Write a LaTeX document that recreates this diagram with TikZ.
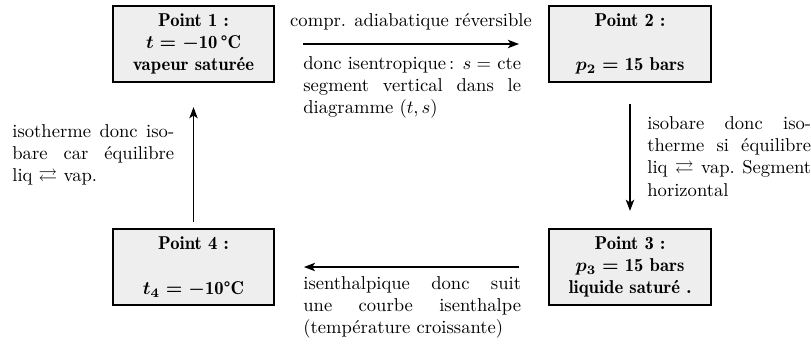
\documentclass[tikz,border=0pt]{standalone}
\usepackage{fontspec}
\usepackage{amssymb}
\usetikzlibrary{arrows.meta}
\newfontfamily\demifont{lmromandemi10-regular.otf}
\newcommand\jline[2]{\makebox[#1][s]{#2}}
\tikzset{
  ptbox/.style={draw, line width=1.1pt, fill=gray!13, minimum width=87pt, minimum height=41pt,
    inner sep=2pt, align=center, font=\demifont\boldmath},
  flow/.style={line width=0.8pt, -{Stealth[length=6pt,width=4.5pt,inset=1.5pt]}},
  para/.style={anchor=north west, inner sep=0pt, align=left},
}
\begin{document}
\begin{tikzpicture}[x=0.5376pt, y=-0.5376pt]
\useasboundingbox (0,0) rectangle (811,349);
\node[ptbox] (b1) at (193.5,44) {Point 1 :\\ $t=-$10\,°C\\ vapeur saturée};
\node[ptbox] (b2) at (630,44) {Point 2 :\\[12pt] $p_2=$ 15 bars};
\node[ptbox] (b3) at (630,267) {Point 3 :\\ $p_3=$ 15 bars\\ liquide saturé .};
\node[ptbox] (b4) at (193.5,267) {Point 4 :\\[12pt] $t_4=-$10°C};

\draw[flow, shorten <=14.8pt, shorten >=15.6pt] (b1.east) -- (b2.west);
\draw[flow, shorten <=11.3pt, shorten >=9.1pt] (b2.south) -- (b3.north);
\draw[flow, shorten <=15.6pt, shorten >=15.3pt] (b3.west) -- (b4.east);
\draw[flow, shorten <=3.2pt, shorten >=12.9pt] (b4.north) -- (b1.south);

\node[anchor=base, inner sep=0pt] (t12) at (411,27) {compr. adiabatique réversible};
\node[para] (d12) at (303,56)
  {\jline{117pt}{donc isentropique\,: $s=$ cte}\\
   \jline{117pt}{segment vertical dans le}\\
   diagramme $(t,s)$};
\node[para] (d23) at (647,116)
  {\jline{88pt}{isobare donc iso-}\\
   \jline{88pt}{therme si équilibre}\\
   \jline{88pt}{liq $\rightleftarrows$ vap.\ Segment}\\
   horizontal};
\node[para] (d34) at (303,276)
  {\jline{117pt}{isenthalpique donc suit}\\
   \jline{117pt}{une courbe isenthalpe}\\
   (température croissante)};
\node[para] (d41) at (12,124)
  {\jline{87pt}{isotherme donc iso-}\\
   \jline{87pt}{bare car équilibre}\\
   liq $\rightleftarrows$ vap.};
\end{tikzpicture}
\end{document}
